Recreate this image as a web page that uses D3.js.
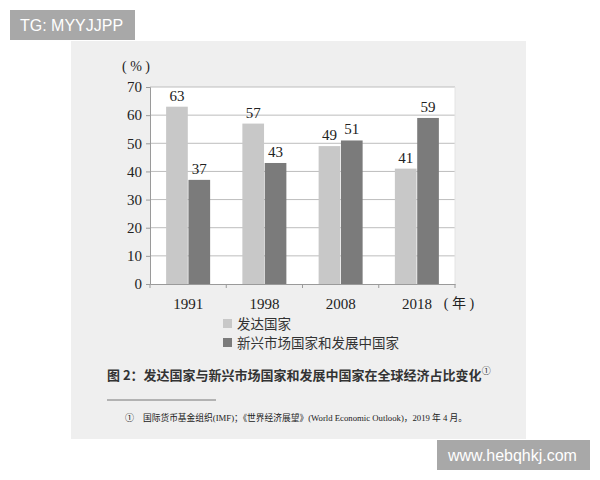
<!DOCTYPE html>
<html>
<head>
<meta charset="utf-8">
<script src="https://cdn.jsdelivr.net/npm/d3@7"></script>
<style>
  body { margin: 0; background: #fff; }
  svg { display: block; }
  .serif { font-family: "Liberation Serif", "Noto Sans CJK SC", serif; fill: #222; }
  .cjk { font-family: "Noto Sans CJK SC", sans-serif; fill: #333; }
</style>
</head>
<body>
<svg id="chart" width="600" height="480"></svg>
<script>
// chart data
var years = ['1991', '1998', '2008', '2018'];
var seriesNames = ['发达国家', '新兴市场国家和发展中国家'];
var developed = [63, 57, 49, 41];
var emerging = [37, 43, 51, 59];
var yTicks = [0, 10, 20, 30, 40, 50, 60, 70];
var seriesColors = ['#c8c8c8', '#7b7b7b'];

var svg = d3.select('#chart');

// grey page panel
svg.append('rect').attr('x', 71).attr('y', 41).attr('width', 455).attr('height', 398).attr('fill', '#efefef');

// watermark boxes
svg.append('rect').attr('x', 10).attr('y', 10).attr('width', 125).attr('height', 30).attr('fill', '#a8a8a8');
svg.append('text').attr('x', 20).attr('y', 31).text('TG: MYYJJPP')
  .style('font-family', '"Liberation Sans", Arial, sans-serif').style('font-size', '16px').attr('fill', '#fff');
svg.append('rect').attr('x', 437).attr('y', 440).attr('width', 153).attr('height', 30).attr('fill', '#a8a8a8');
svg.append('text').attr('x', 448).attr('y', 461).text('www.hebqhkj.com')
  .style('font-family', '"Liberation Sans", Arial, sans-serif').style('font-size', '16px').attr('fill', '#fff');

var margin = {top: 87, left: 150};
var width = 305, height = 197;
var chart = svg.append('g').attr('transform', 'translate(' + margin.left + ',' + margin.top + ')');

var x = d3.scaleBand().domain(years).range([0, width]);
var y = d3.scaleLinear().domain([0, 70]).range([height, 0]);

chart.append('rect').attr('width', width).attr('height', height).attr('fill', '#fff');

// gridlines
chart.selectAll('.grid').data(yTicks.slice(1)).enter().append('line')
  .attr('class', 'grid')
  .attr('x1', 0).attr('x2', width)
  .attr('y1', function(d){ return y(d); }).attr('y2', function(d){ return y(d); })
  .attr('stroke', '#bdbdbd').attr('stroke-width', 1);
chart.append('line').attr('x1', width).attr('x2', width).attr('y1', 0).attr('y2', height)
  .attr('stroke', '#e4e4e4');

// y axis
var yAxis = chart.append('g').call(d3.axisLeft(y).tickValues(yTicks).tickSize(4).tickPadding(4));
yAxis.select('.domain').attr('stroke', '#9a9a9a');
yAxis.selectAll('.tick line').attr('stroke', '#9a9a9a');
yAxis.selectAll('text').attr('class', 'serif').style('font-size', '15px');

// x axis with ticks at band edges
var xAxis = chart.append('g').attr('transform', 'translate(0,' + height + ')')
  .call(d3.axisBottom(x).tickSize(0).tickPadding(14));
xAxis.select('.domain').attr('stroke', '#9a9a9a');
xAxis.selectAll('text').attr('class', 'serif').style('font-size', '15px');
chart.selectAll('.xtick').data(years.concat(['end'])).enter().append('line')
  .attr('x1', function(d, i){ return i * x.step(); })
  .attr('x2', function(d, i){ return i * x.step(); })
  .attr('y1', height).attr('y2', height + 4)
  .attr('stroke', '#9a9a9a');

var inner = d3.scaleBand().domain([0, 1]).range([0, 44]).paddingInner(0.03);
var series = [developed, emerging];

series.forEach(function(vals, s){
  var g = chart.append('g');
  g.selectAll('rect').data(vals).enter().append('rect')
    .attr('x', function(d, i){ return x(years[i]) + x.bandwidth() / 2 - 22 + inner(s); })
    .attr('y', function(d){ return y(d); })
    .attr('width', inner.bandwidth())
    .attr('height', function(d){ return height - y(d); })
    .attr('fill', seriesColors[s]);
  g.selectAll('text').data(vals).enter().append('text')
    .attr('class', 'serif')
    .attr('x', function(d, i){ return x(years[i]) + x.bandwidth() / 2 - 22 + inner(s) + inner.bandwidth() / 2; })
    .attr('y', function(d){ return y(d) - 6; })
    .attr('text-anchor', 'middle')
    .style('font-size', '15px')
    .text(function(d){ return d; });
});

// unit labels
svg.append('text').attr('class', 'serif').attr('x', 136).attr('y', 71).attr('text-anchor', 'middle')
  .style('font-size', '14px').attr('xml:space', 'preserve').text('( % )');
svg.append('text').attr('class', 'serif').attr('x', 459).attr('y', 308).attr('text-anchor', 'middle')
  .style('font-size', '14px').attr('xml:space', 'preserve').text('( 年 )');

// legend
var legend = svg.selectAll('.legend').data(seriesNames).enter().append('g')
  .attr('class', 'legend')
  .attr('transform', function(d, i){ return 'translate(223,' + (319 + i * 19) + ')'; });
legend.append('rect').attr('width', 9).attr('height', 9)
  .attr('fill', function(d, i){ return seriesColors[i]; });
legend.append('text').attr('class', 'cjk').attr('x', 14).attr('y', 5).attr('dy', '0.35em')
  .style('font-size', '13.5px').text(function(d){ return d; });

// caption and footnote
var title = svg.append('text').attr('class', 'cjk').attr('x', 107).attr('y', 380)
  .style('font-size', '13px').style('font-weight', 'bold').attr('fill', '#222');
title.append('tspan').text('图 2：发达国家与新兴市场国家和发展中国家在全球经济占比变化');
title.append('tspan').attr('dy', -6).style('font-size', '9px').style('font-weight', 'normal').text('①');

svg.append('line').attr('x1', 107).attr('x2', 216).attr('y1', 400).attr('y2', 400)
  .attr('stroke', '#777').attr('stroke-width', 1);
svg.append('text').attr('class', 'serif').attr('x', 125).attr('y', 421)
  .style('font-size', '9px').text('①');
svg.append('text').attr('class', 'serif').attr('x', 143).attr('y', 421)
  .style('font-size', '9px').attr('textLength', 324).attr('lengthAdjust', 'spacingAndGlyphs')
  .text('国际货币基金组织(IMF)；《世界经济展望》(World Economic Outlook)，2019 年 4 月。');
</script>
</body>
</html>
